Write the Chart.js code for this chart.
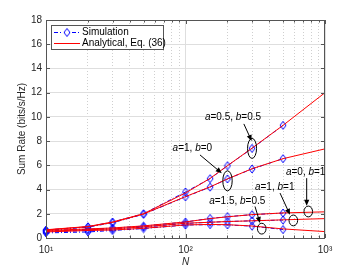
<!DOCTYPE html>
<html><head><meta charset="utf-8">
<script src="https://cdn.jsdelivr.net/npm/chart.js@4/dist/chart.umd.min.js"></script>
<style>html,body{margin:0;padding:0;background:#fff;}#wrap{width:359px;height:269px;position:relative;}</style>
</head><body><div id="wrap"><canvas id="c"></canvas></div>
<script>
// ---- data ----
const simN = [10, 20, 30, 50, 100, 150, 200, 300, 500];
const anaN = [10, 20, 30, 50, 100, 150, 200, 300, 500, 1000];
const curveLabels = ['a=0.5, b=0.5', 'a=1, b=0', 'a=0, b=1', 'a=1, b=1', 'a=1.5, b=0.5'];
const simA = [0.65, 0.93, 1.32, 2.0, 3.8, 4.9, 5.97, 7.4, 9.3];
const simB = [0.62, 0.9, 1.26, 1.96, 3.4, 4.2, 4.88, 5.7, 6.55];
const simC = [0.58, 0.72, 0.82, 0.98, 1.32, 1.62, 1.76, 1.93, 2.06];
const simD = [0.5, 0.62, 0.72, 0.9, 1.2, 1.3, 1.36, 1.42, 1.48];
const simE = [0.42, 0.5, 0.62, 0.78, 1.07, 1.1, 1.08, 0.98, 0.7];
const anaA = [0.68, 0.95, 1.32, 2.0, 3.72, 4.92, 5.97, 7.42, 9.3, 12.0];
const anaB = [0.66, 0.93, 1.28, 1.98, 3.42, 4.22, 4.88, 5.72, 6.55, 7.36];
const anaC = [0.62, 0.75, 0.83, 1.0, 1.33, 1.6, 1.75, 1.93, 2.07, 2.16];
const anaD = [0.56, 0.68, 0.75, 0.92, 1.22, 1.3, 1.36, 1.42, 1.5, 1.6];
const anaE = [0.5, 0.62, 0.66, 0.8, 1.08, 1.12, 1.1, 0.99, 0.75, 0.53];
const simSeries = [simA, simB, simC, simD, simE];
const anaSeries = [anaA, anaB, anaC, anaD, anaE];
const xTickValues = [10, 100, 1000];
const xTickLabels = ['10\u00b9', '10\u00b2', '10\u00b3'];
const yTickValues = [0, 2, 4, 6, 8, 10, 12, 14, 16, 18];
const yTickLabels = ['0', '2', '4', '6', '8', '10', '12', '14', '16', '18'];
const legendLabels = ['Simulation', 'Analytical, Eq. (36)'];
const xTitle = 'N';
const yTitle = 'Sum Rate (bits/s/Hz)';
// annotation anchors in data coordinates: text, arrow start, arrow tip, ellipse centre
const annText = [[219, 10.0], [112, 7.41], [727, 5.4], [436, 4.2], [235, 3.07]];
const annFrom = [[262, 9.42], [127, 6.86], [739, 4.94], [476, 3.71], [315, 2.6]];
const annTo = [[298, 8.01], [182, 5.35], [739, 2.66], [561, 1.92], [342, 1.24]];
const annEll = [[300, 7.4], [200, 4.72], [759, 2.19], [593, 1.45], [352, 0.77]];

// ---- styles ----
const FONT = '"Liberation Sans", Arial, Helvetica, sans-serif';
const AXC = '#262626';
const ellR = [[4.5, 10], [4.7, 10], [4.3, 5.4], [4.3, 5.4], [4.3, 5.4]];

const diamond = document.createElement('canvas');
diamond.width = 8; diamond.height = 10;
(function () {
  const g = diamond.getContext('2d');
  g.strokeStyle = '#0000ff'; g.lineWidth = 1;
  g.beginPath(); g.moveTo(4, 1); g.lineTo(7, 5); g.lineTo(4, 9); g.lineTo(1, 5); g.closePath(); g.stroke();
})();

const datasets = [];
anaSeries.forEach((s, k) => {
  datasets.push({
    label: 'ana' + k, data: anaN.map((n, i) => ({ x: n, y: s[i] })),
    borderColor: '#ff0000', borderWidth: 1, pointRadius: 0, tension: 0, fill: false, order: 1, clip: false
  });
});
simSeries.forEach((s, k) => {
  datasets.push({
    label: 'sim' + k, data: simN.map((n, i) => ({ x: n, y: s[i] })),
    borderColor: '#0000ff', borderWidth: 1, borderDash: [4, 2, 1, 2], pointStyle: diamond, pointRadius: 4,
    tension: 0, fill: false, order: 2, clip: false
  });
});

function isMajor(v) { return xTickValues.some(t => Math.abs(t - v) < 1e-6); }

function drawRich(ctx, text, cx, cy, size) {
  const parts = [];
  for (const ch of text) {
    const it = (ch === 'a' || ch === 'b');
    if (parts.length && parts[parts.length - 1].it === it) parts[parts.length - 1].s += ch;
    else parts.push({ s: ch, it });
  }
  let w = 0;
  parts.forEach(p => { ctx.font = (p.it ? 'italic ' : '') + size + 'px ' + FONT; p.w = ctx.measureText(p.s).width; w += p.w; });
  let x = cx - w / 2;
  ctx.textAlign = 'left'; ctx.textBaseline = 'middle';
  parts.forEach(p => { ctx.font = (p.it ? 'italic ' : '') + size + 'px ' + FONT; ctx.fillText(p.s, x, cy); x += p.w; });
}

function arrow(ctx, x0, y0, x1, y1) {
  const a = Math.atan2(y1 - y0, x1 - x0), L = 6, W = 2.6;
  ctx.beginPath(); ctx.moveTo(x0, y0); ctx.lineTo(x1 - L * 0.7 * Math.cos(a), y1 - L * 0.7 * Math.sin(a)); ctx.stroke();
  ctx.beginPath();
  ctx.moveTo(x1, y1);
  ctx.lineTo(x1 - L * Math.cos(a) + W * Math.sin(a), y1 - L * Math.sin(a) - W * Math.cos(a));
  ctx.lineTo(x1 - L * Math.cos(a) - W * Math.sin(a), y1 - L * Math.sin(a) + W * Math.cos(a));
  ctx.closePath(); ctx.fill();
}

const matlabPlugin = {
  id: 'matlab',
  afterDatasetsDraw(chart) {
    const ctx = chart.ctx, a = chart.chartArea, xs = chart.scales.x, ys = chart.scales.y;
    ctx.save();
    // frame
    ctx.strokeStyle = '#555'; ctx.lineWidth = 1;
    ctx.strokeRect(Math.round(a.left) + 0.5, Math.round(a.top) + 0.5, Math.round(a.right - a.left) - 1, Math.round(a.bottom - a.top));
    // inward ticks
    ctx.beginPath();
    xs.ticks.forEach(t => {
      const px = Math.round(xs.getPixelForValue(t.value)) + 0.5;
      const len = isMajor(t.value) ? 4 : 2.5;
      ctx.moveTo(px, a.bottom); ctx.lineTo(px, a.bottom - len);
      ctx.moveTo(px, a.top); ctx.lineTo(px, a.top + len);
    });
    ys.ticks.forEach(t => {
      const py = Math.round(ys.getPixelForValue(t.value)) + 0.5;
      ctx.moveTo(a.left, py); ctx.lineTo(a.left + 4, py);
      ctx.moveTo(a.right, py); ctx.lineTo(a.right - 4, py);
    });
    ctx.stroke();
    // axis titles
    ctx.fillStyle = AXC;
    ctx.font = '10px ' + FONT; ctx.textAlign = 'center'; ctx.textBaseline = 'middle';
    ctx.save(); ctx.translate(22, (a.top + a.bottom) / 2); ctx.rotate(-Math.PI / 2); ctx.fillText(yTitle, 0, 0); ctx.restore();
    ctx.font = 'italic 10px ' + FONT;
    ctx.fillText(xTitle, (a.left + a.right) / 2, 262);
    // annotations
    ctx.fillStyle = '#000'; ctx.strokeStyle = '#000'; ctx.lineWidth = 1;
    curveLabels.forEach((lab, k) => {
      const P = p => [xs.getPixelForValue(p[0]), ys.getPixelForValue(p[1])];
      const t = P(annText[k]), f = P(annFrom[k]), to = P(annTo[k]), e = P(annEll[k]);
      drawRich(ctx, lab, t[0], t[1], 10);
      arrow(ctx, f[0], f[1], to[0], to[1]);
      ctx.beginPath(); ctx.ellipse(e[0], e[1], ellR[k][0], ellR[k][1], 0, 0, Math.PI * 2); ctx.stroke();
    });
    // legend
    const lx = a.left + 5, ly = a.top + 5, lw = 112, lh = 24;
    ctx.fillStyle = '#fff'; ctx.fillRect(lx, ly, lw, lh);
    ctx.strokeStyle = '#555'; ctx.lineWidth = 1; ctx.strokeRect(lx + 0.5, ly + 0.5, lw, lh);
    const y1 = ly + 7.5, y2 = ly + 18.5;
    ctx.strokeStyle = '#0000ff'; ctx.setLineDash([4, 2, 1, 2]);
    ctx.beginPath(); ctx.moveTo(lx + 3, y1); ctx.lineTo(lx + 29, y1); ctx.stroke();
    ctx.setLineDash([]);
    ctx.fillStyle = '#fff'; ctx.fillRect(lx + 12, y1 - 5, 8, 10);
    ctx.drawImage(diamond, lx + 12, y1 - 5);
    ctx.strokeStyle = '#ff0000';
    ctx.beginPath(); ctx.moveTo(lx + 3, y2); ctx.lineTo(lx + 29, y2); ctx.stroke();
    ctx.fillStyle = '#000'; ctx.font = '10px ' + FONT; ctx.textAlign = 'left'; ctx.textBaseline = 'middle';
    ctx.fillText(legendLabels[0], lx + 31, y1);
    ctx.fillText(legendLabels[1], lx + 31, y2);
    ctx.restore();
  }
};

new Chart(document.getElementById('c'), {
  type: 'line',
  data: { datasets },
  plugins: [matlabPlugin],
  options: {
    responsive: true, maintainAspectRatio: false, animation: false, devicePixelRatio: 1,
    layout: { padding: { top: 20, right: 34, left: 0, bottom: 0 } },
    plugins: { legend: { display: false }, tooltip: { enabled: false } },
    scales: {
      x: {
        type: 'logarithmic', min: 10, max: 1000,
        afterBuildTicks: s => {
          const v = [];
          for (let d = 0; d < xTickValues.length; d++) {
            v.push(xTickValues[d]);
            if (d < xTickValues.length - 1) for (let m = 2; m <= 9; m++) v.push(xTickValues[d] * m);
          }
          s.ticks = v.map(x => ({ value: x }));
        },
        afterFit: s => { s.height = 31; },
        ticks: {
          autoSkip: false, maxRotation: 0, padding: 6, color: AXC, font: { family: FONT, size: 10 },
          callback: v => { const i = xTickValues.findIndex(t => Math.abs(t - v) < 1e-6); return i >= 0 ? xTickLabels[i] : ''; }
        },
        grid: {
          drawTicks: false,
          color: c => (c.tick && isMajor(c.tick.value)) ? '#dedede' : '#cfcfcf'
        },
        border: { display: false, dash: c => (c.tick && !isMajor(c.tick.value)) ? [1, 2] : [] }
      },
      y: {
        min: 0, max: 18,
        afterBuildTicks: s => { s.ticks = yTickValues.map(v => ({ value: v })); },
        afterFit: s => { s.width = 46; },
        ticks: {
          padding: 4, color: AXC, font: { family: FONT, size: 10 },
          callback: v => { const i = yTickValues.indexOf(v); return i >= 0 ? yTickLabels[i] : ''; }
        },
        grid: { drawTicks: false, color: '#dedede' },
        border: { display: false }
      }
    }
  }
});
</script>
</body></html>
